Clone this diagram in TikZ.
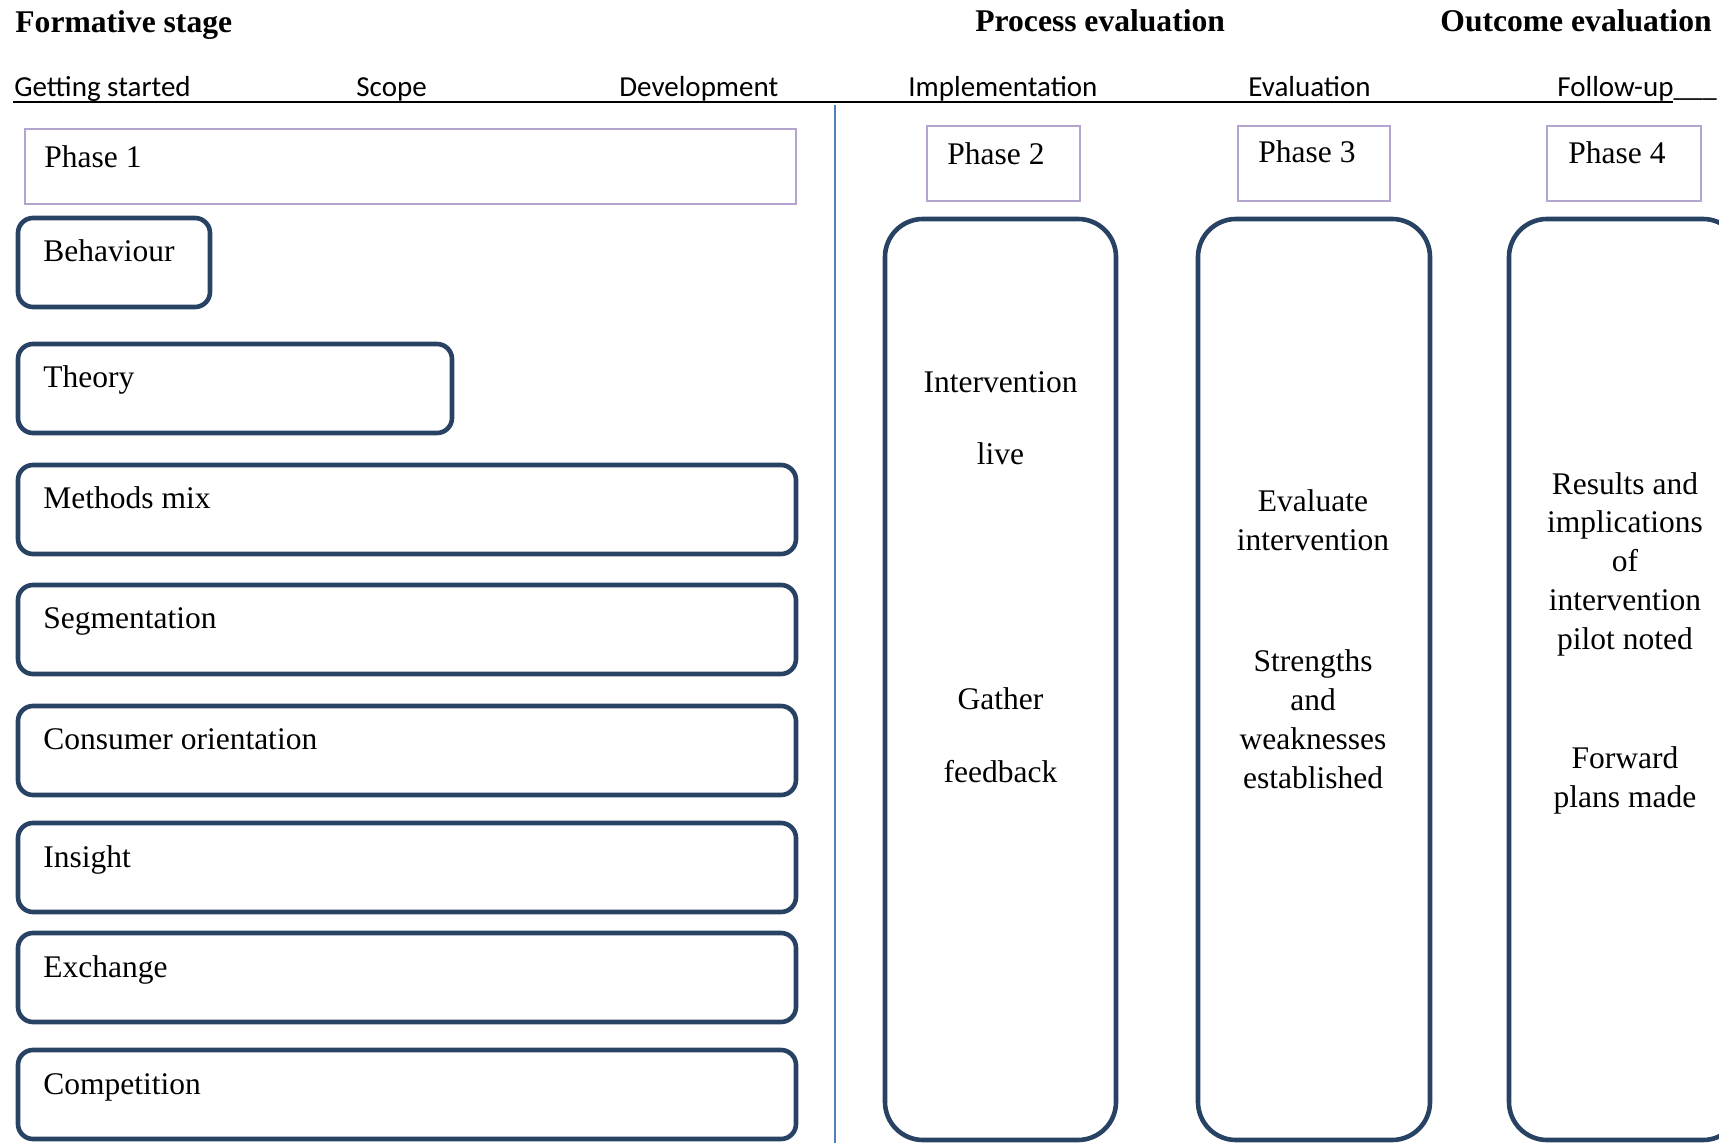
\documentclass[tikz,border=0pt]{standalone}
\usepackage{fontspec}
\setmainfont{Liberation Serif}
\newfontfamily\calib{Carlito}
\definecolor{navy}{RGB}{40,66,100}
\definecolor{lilac}{RGB}{180,164,208}
\definecolor{rulblue}{RGB}{79,129,189}
\begin{document}
\begin{tikzpicture}[x=0.5pt,y=-0.5pt,
  hdr/.style={font=\fontsize{15.8}{19}\selectfont\bfseries, anchor=base west, inner sep=0},
  sub/.style={font=\calib\fontsize{14.5}{17}\selectfont, anchor=base west, inner sep=0},
  lbl/.style={font=\fontsize{15.75}{19}\selectfont, anchor=base west, inner sep=0},
  ctr/.style={font=\fontsize{15.75}{19}\selectfont, anchor=base, inner sep=0},
  phasebox/.style={draw=lilac, line width=1pt, rectangle, inner sep=0, outer sep=0, anchor=north west, minimum height=37.5pt},
  itembox/.style={draw=navy, line width=2.3pt, rectangle, rounded corners=7.5pt, inner sep=0, outer sep=0, anchor=north west, minimum height=44.5pt},
  tallbox/.style={draw=navy, line width=2.3pt, rectangle, rounded corners=19pt, inner sep=0, outer sep=0, anchor=north west, minimum height=460.5pt, minimum width=116pt},
]
\useasboundingbox (0,0) rectangle (1719,1143);
\clip (0,0) rectangle (1719,1143);
\fill[white] (0,0) rectangle (1719,1143);

% headers
\node[hdr] (hform) at (15,33) {Formative stage};
\node[hdr] (hproc) at (975,32) {Process evaluation};
\node[hdr] (hout) at (1440,32) {Outcome evaluation};

% sub headers
\node[sub] (sget) at (14,97) {Getting started};
\node[sub] (sscope) at (356,97) {Scope};
\node[sub] (sdev) at (619,97) {Development};
\node[sub] (simp) at (908,97) {Implementation};
\node[sub] (seval) at (1248,97) {Evaluation};
\node[sub] (sfol) at (1557,97) {Follow-up\_\_\_};

\coordinate (hl1) at (13,102);
\coordinate (hl2) at (1673,102);
\draw[line width=1.3pt] (hl1) -- (hl2);

\coordinate (vl1) at (835,105);
\coordinate (vl2) at (835,1143);
\draw[rulblue, line width=1pt] (vl1) -- (vl2);

% phase boxes
\node[phasebox, minimum width=385.5pt] (p1) at (25,129) {};
\node[lbl] (p1t) at (44,168) {Phase 1};
\node[phasebox, minimum width=76.5pt] (p2) at (927,126) {};
\node[lbl] (p2t) at (947,165) {Phase 2};
\node[phasebox, minimum width=76pt] (p3) at (1238,126) {};
\node[lbl] (p3t) at (1258,163) {Phase 3};
\node[phasebox, minimum width=77pt] (p4) at (1547,126) {};
\node[lbl] (p4t) at (1568,164) {Phase 4};

% left item boxes
\node[itembox, minimum width=96pt] (b1) at (18,218) {};
\node[lbl] (b1t) at (43,262) {Behaviour};
\node[itembox, minimum width=217pt] (b2) at (18,344) {};
\node[lbl] (b2t) at (43,388) {Theory};
\node[itembox, minimum width=389pt] (b3) at (18,465) {};
\node[lbl] (b3t) at (43,509) {Methods mix};
\node[itembox, minimum width=389pt] (b4) at (18,585) {};
\node[lbl] (b4t) at (43,629) {Segmentation};
\node[itembox, minimum width=389pt] (b5) at (18,706) {};
\node[lbl] (b5t) at (43,750) {Consumer orientation};
\node[itembox, minimum width=389pt] (b6) at (18,823) {};
\node[lbl] (b6t) at (43,867) {Insight};
\node[itembox, minimum width=389pt] (b7) at (18,933) {};
\node[lbl] (b7t) at (43,977) {Exchange};
\node[itembox, minimum width=389pt] (b8) at (18,1050) {};
\node[lbl] (b8t) at (43,1094) {Competition};

% tall boxes
\node[tallbox, minimum width=115.5pt] (t2) at (885,219) {};
\node[tallbox] (t3) at (1198,219) {};
\node[tallbox] (t4) at (1509,219) {};

\node[ctr] (t2a) at (1000.5,393) {Intervention};
\node[ctr] (t2b) at (1000.5,465) {live};
\node[ctr] (t2c) at (1000.5,710) {Gather};
\node[ctr] (t2d) at (1000.5,783) {feedback};

\node[ctr] (t3a) at (1313,512) {Evaluate};
\node[ctr] (t3b) at (1313,551) {intervention};
\node[ctr] (t3c) at (1313,672) {Strengths};
\node[ctr] (t3d) at (1313,711) {and};
\node[ctr] (t3e) at (1313,750) {weaknesses};
\node[ctr] (t3f) at (1313,789) {established};

\node[ctr] (t4a) at (1625,495) {Results and};
\node[ctr] (t4b) at (1625,533) {implications};
\node[ctr] (t4c) at (1625,572) {of};
\node[ctr] (t4d) at (1625,611) {intervention};
\node[ctr] (t4e) at (1625,650) {pilot noted};
\node[ctr] (t4f) at (1625,769) {Forward};
\node[ctr] (t4g) at (1625,808) {plans made};
\end{tikzpicture}
\end{document}
